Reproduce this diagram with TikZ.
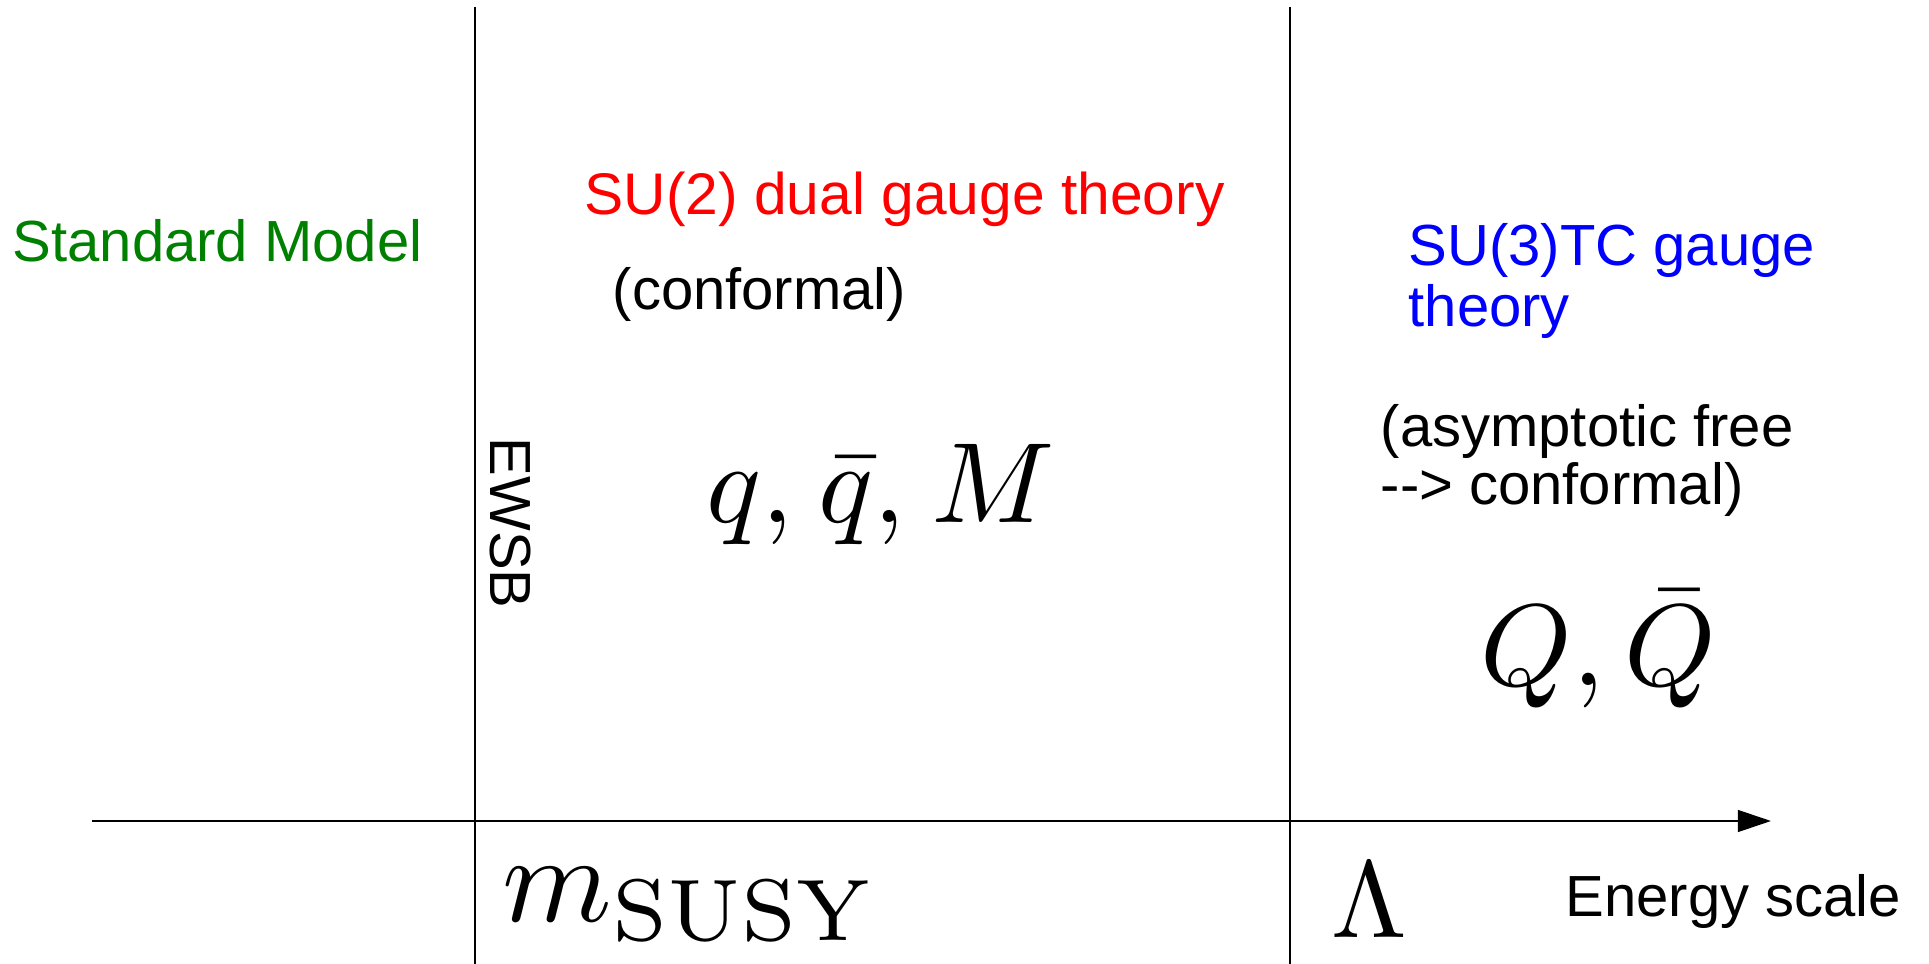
\documentclass[tikz,border=0pt]{standalone}
\usepackage{amsmath}
\usepackage{graphicx}
\usepackage[no-math]{fontspec}
\setmainfont{Liberation Sans}
\usepackage{xcolor}
\usetikzlibrary{arrows.meta}
\definecolor{smgreen}{HTML}{008000}
\definecolor{dualred}{HTML}{FF0000}
\definecolor{tcblue}{HTML}{0000FF}
% math set at 10pt and blown up, as in the original figure
\newcommand{\scalemath}[2]{\scalebox{#1}{$#2$}}

\begin{document}
\begin{tikzpicture}[x=0.01cm,y=-0.01cm,
  lbl/.style={inner sep=0pt,anchor=base west,align=left,
              font=\fontsize{16.5}{16.5}\selectfont},
  sym/.style={inner sep=0pt,anchor=base west,
              font=\fontsize{10}{12}\selectfont},
  scale line/.style={line width=0.55pt},
  axis/.style={line width=0.55pt,-{Triangle[length=9.4pt,width=6.2pt]}}
]
\useasboundingbox (0,0) rectangle (1929,964);

% scale markers and energy axis
\coordinate (susyT) at (475,7);
\coordinate (susyB) at (475,964);
\coordinate (lamT) at (1290,7);
\coordinate (lamB) at (1290,964);
\coordinate (axisL) at (92,821);
\coordinate (axisR) at (1771,821);
\draw[scale line] (susyT) -- (susyB);
\draw[line width=0.4pt] (lamT) -- (lamB);
\draw[axis] (axisL) -- (axisR);

% regions
\node[lbl,text=smgreen] (sm) at (12,262) {Standard Model};
\node[lbl,text=dualred,font=\fontsize{16.7}{16.7}\selectfont] (dual) at (584,215)
  {SU(2) dual gauge theory};
\node[lbl] (dualconf) at (612,310) {(conformal)};
\node[sym] (dualfields) at (706,523) {\scalemath{3.25}{q,\mskip1mu\bar{q},\mskip1mu M}};
\node[lbl,rotate=-90] (ewsb) at (490,437) {EWSB};

\node[lbl,text=tcblue,font=\fontsize{16.5}{17.6}\selectfont] (tc) at (1408,327)
  {SU(3)TC gauge\\theory};
\node[lbl] (tcflow) at (1380,505) {(asymptotic free\\-{}-> conformal)};
\node[sym] (tcfields) at (1480,686) {\scalemath{3.3}{Q,\bar{Q}}};

% scales on the axis
\node[sym] (msusy) at (502,922) {\scalemath{3.55}{m_{\mathrm{SUSY}}}};
\node[sym] (lam) at (1331,938) {\scalemath{3.1}{\Lambda}};
\node[lbl] (energy) at (1565,917) {Energy scale};
\end{tikzpicture}
\end{document}
